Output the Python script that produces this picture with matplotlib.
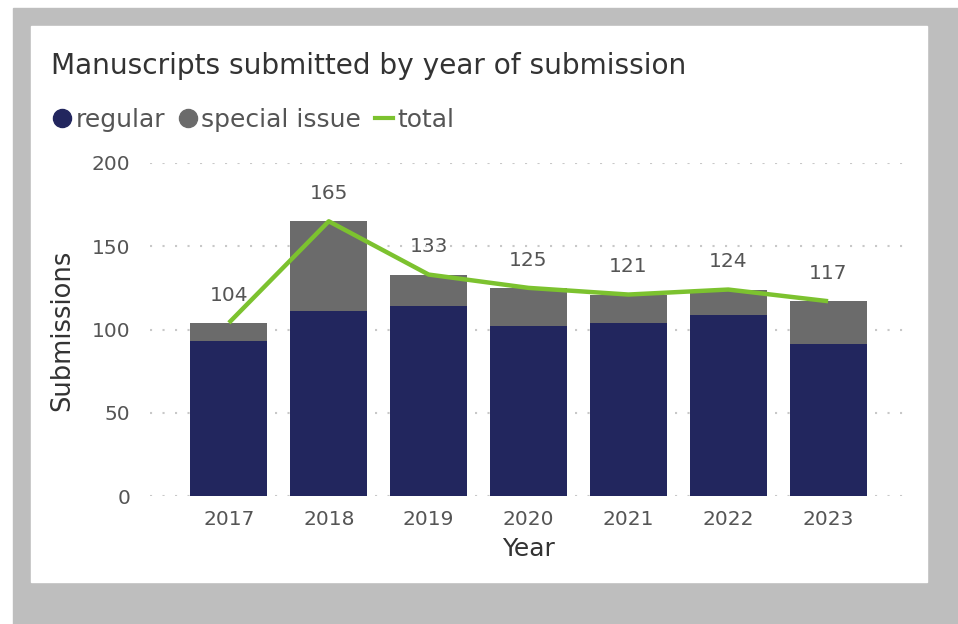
import matplotlib
matplotlib.use("Agg")
import matplotlib.pyplot as plt
from matplotlib.patches import Rectangle
from matplotlib.lines import Line2D

# data
years = ["2017", "2018", "2019", "2020", "2021", "2022", "2023"]
regular = [93, 111, 114, 102, 104, 109, 91]
total = [104, 165, 133, 125, 121, 124, 117]
special = [t - r for t, r in zip(total, regular)]

navy = "#22265e"
grey = "#6b6b6b"
green = "#7cc22f"
text_col = "#555555"

W, H = 958, 624
fig = plt.figure(figsize=(W / 100, H / 100), dpi=100, facecolor="white")

# grey frame and white card (behind the axes)
fig.patches.append(Rectangle((13 / W, 0), 1 - 13 / W, (H - 8) / H,
                             transform=fig.transFigure, color="#bebebe", zorder=-2))
fig.patches.append(Rectangle((31 / W, (H - 582) / H), (927 - 31) / W, (582 - 26) / H,
                             transform=fig.transFigure, color="white", zorder=-1))

ax = fig.add_axes([150 / W, (H - 496) / H, (905 - 150) / W, (496 - 163) / H])
ax.set_facecolor("none")

x = list(range(len(years)))
ax.bar(x, regular, width=0.77, color=navy, zorder=2)
ax.bar(x, special, width=0.77, bottom=regular, color=grey, zorder=2)
ax.plot(x, total, color=green, lw=3.2, zorder=3, solid_capstyle="butt")

for xi, t in zip(x, total):
    ax.annotate(str(t), (xi, t), xytext=(0, 20), textcoords="offset points",
                ha="center", va="center", fontsize=14.5, color=text_col)

ax.set_xlim(-0.79, 6.77)
ax.set_ylim(0, 200)
ax.set_yticks([0, 50, 100, 150, 200])
ax.set_xticks(x)
ax.set_xticklabels(years)
ax.tick_params(axis="y", length=0, pad=14, labelsize=14.5, labelcolor=text_col)
ax.tick_params(axis="x", length=0, pad=10, labelsize=14.5, labelcolor=text_col)
ax.grid(axis="y", color="#c8c8c8", linestyle=(0, (1, 5)), lw=1.5, zorder=0)
for s in ax.spines.values():
    s.set_visible(False)

fig.text(529 / W, 1 - 549 / H, "Year", ha="center", va="center",
         fontsize=18, color="#333333")
fig.text(62 / W, 1 - 330 / H, "Submissions", ha="center", va="center",
         rotation=90, fontsize=18.5, color="#333333")
fig.text(51 / W, 1 - 66 / H, "Manuscripts submitted by year of submission",
         ha="left", va="center", fontsize=20.2, color="#333333")

handles = [
    Line2D([], [], marker="o", ls="none", color=navy, markersize=13),
    Line2D([], [], marker="o", ls="none", color=grey, markersize=13),
    Line2D([], [], color=green, lw=3),
]
leg = fig.legend(handles, ["regular", "special issue", "total"], ncol=3,
                 loc="center left", bbox_to_anchor=(53 / W, 1 - 120 / H),
                 frameon=False, fontsize=18, handlelength=0.7,
                 handletextpad=0.2, columnspacing=0.55, borderpad=0,
                 borderaxespad=0)
for t in leg.get_texts():
    t.set_color(text_col)

fig.savefig("out.png", dpi=100, facecolor=fig.get_facecolor())
